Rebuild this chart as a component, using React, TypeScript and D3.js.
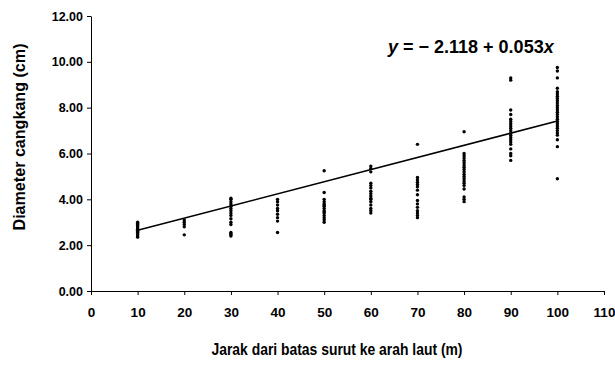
import React, { useEffect, useRef } from 'react';
import * as d3 from 'd3';

// distance from low tide line (m)
const distances = [10, 20, 30, 40, 50, 60, 70, 80, 90, 100];

// shell diameters (cm) observed at each distance
const d10 = [3.0, 2.95, 2.9, 2.85, 2.8, 2.75, 2.7, 2.65, 2.6, 2.55, 2.5, 2.45, 2.4, 2.35];
const d20 = [3.1, 3.0, 2.9, 2.8, 2.45];
const d30 = [4.05, 4.0, 3.9, 3.8, 3.7, 3.6, 3.5, 3.4, 3.3, 3.15, 3.0, 2.9, 2.55, 2.5, 2.45, 2.4];
const d40 = [4.0, 3.9, 3.75, 3.6, 3.5, 3.35, 3.2, 3.05, 2.55];
const d50 = [5.25, 4.3, 4.0, 3.9, 3.8, 3.75, 3.7, 3.6, 3.5, 3.45, 3.4, 3.3, 3.2, 3.1, 3.0];
const d60 = [5.45, 5.35, 5.2, 4.7, 4.6, 4.5, 4.35, 4.25, 4.15, 4.05, 4.0, 3.9, 3.75, 3.6, 3.5, 3.4];
const d70 = [6.4, 4.95, 4.85, 4.75, 4.65, 4.55, 4.4, 4.2, 3.95, 3.8, 3.65, 3.5, 3.4, 3.3, 3.2];
const d80 = [6.95, 6.0, 5.9, 5.8, 5.7, 5.6, 5.5, 5.4, 5.3, 5.2, 5.1, 5.0, 4.9, 4.8, 4.7, 4.6, 4.45, 4.1, 4.0, 3.9];
const d90 = [9.3, 9.2, 7.9, 7.7, 7.5, 7.4, 7.3, 7.2, 7.1, 7.0, 6.9, 6.8, 6.7, 6.6, 6.5, 6.4, 6.2, 6.0, 5.9, 5.7];
const d100 = [9.75, 9.6, 9.3, 8.85, 8.7, 8.6, 8.5, 8.4, 8.3, 8.2, 8.1, 8.0, 7.9, 7.8, 7.7, 7.6, 7.5, 7.4, 7.3, 7.2, 7.1, 7.0, 6.9, 6.8, 6.6, 6.3, 4.9];
const diameters = [d10, d20, d30, d40, d50, d60, d70, d80, d90, d100];

// regression line
const intercept = 2.118;
const slope = 0.053;

const xTicks = [0, 10, 20, 30, 40, 50, 60, 70, 80, 90, 100, 110];
const yTicks = [0, 2, 4, 6, 8, 10, 12];

const FONT = '"Liberation Sans", Arial, sans-serif';

const App = () => {
    const ref = useRef<SVGSVGElement>(null);

    useEffect(() => {
        const svg = d3.select(ref.current);
        svg.selectAll('*').remove();

        const x = d3.scaleLinear().domain([0, 110]).range([91, 604]);
        const y = d3.scaleLinear().domain([0, 12]).range([291, 16]);

        // x axis
        const xAxis = svg.append('g')
            .attr('transform', `translate(0, ${y(0)})`)
            .call(d3.axisBottom(x).tickValues(xTicks).tickSize(4).tickSizeOuter(0).tickPadding(12)
                .tickFormat(d => String(d)));
        xAxis.selectAll('.tick text').style('font-size', '13.5px');

        // y axis
        const yAxis = svg.append('g')
            .attr('transform', `translate(${x(0)}, 0)`)
            .call(d3.axisLeft(y).tickValues(yTicks).tickSize(4).tickSizeOuter(0).tickPadding(4)
                .tickFormat(d => d3.format('.2f')(d as number)));
        yAxis.selectAll('.tick text').style('font-size', '12.5px');

        [xAxis, yAxis].forEach(a => {
            a.select('.domain').attr('stroke', '#000').attr('stroke-width', 1);
            a.selectAll('.tick line').attr('stroke', '#000');
            a.selectAll('.tick text')
                .attr('fill', '#000')
                .style('font-family', FONT)
                .style('font-weight', 'bold');
        });

        // points
        const points = distances.flatMap((dist, i) => diameters[i].map(v => ({ dist, v })));
        svg.append('g')
            .selectAll('circle')
            .data(points)
            .enter()
            .append('circle')
            .attr('cx', d => x(d.dist))
            .attr('cy', d => y(d.v))
            .attr('r', 1.7)
            .attr('fill', '#000');

        // fitted line
        const x0 = d3.min(distances) as number;
        const x1 = d3.max(distances) as number;
        svg.append('line')
            .attr('x1', x(x0))
            .attr('y1', y(intercept + slope * x0))
            .attr('x2', x(x1))
            .attr('y2', y(intercept + slope * x1))
            .attr('stroke', '#000')
            .attr('stroke-width', 1.6);

        // equation
        const eq = svg.append('text')
            .attr('x', 388)
            .attr('y', 53)
            .style('font-family', FONT)
            .style('font-weight', 'bold')
            .style('font-size', '18px');
        eq.append('tspan').style('font-style', 'italic').text('y');
        eq.append('tspan').text(' = \u2212 2.118 + 0.053');
        eq.append('tspan').style('font-style', 'italic').text('x');

        // axis titles
        svg.append('text')
            .attr('x', 337)
            .attr('y', 355)
            .attr('text-anchor', 'middle')
            .attr('textLength', 251)
            .attr('lengthAdjust', 'spacingAndGlyphs')
            .style('font-family', FONT)
            .style('font-weight', 'bold')
            .style('font-size', '16px')
            .text('Jarak dari batas surut ke arah laut (m)');

        svg.append('text')
            .attr('transform', `translate(25, 137) rotate(-90)`)
            .attr('text-anchor', 'middle')
            .attr('textLength', 187)
            .attr('lengthAdjust', 'spacingAndGlyphs')
            .style('font-family', FONT)
            .style('font-weight', 'bold')
            .style('font-size', '16px')
            .text('Diameter cangkang (cm)');
    }, []);

    return (
        <svg ref={ref} width={615} height={366}
            style={{ position: 'absolute', left: 0, top: 0, background: '#fff' }} />
    );
};

export default App;
